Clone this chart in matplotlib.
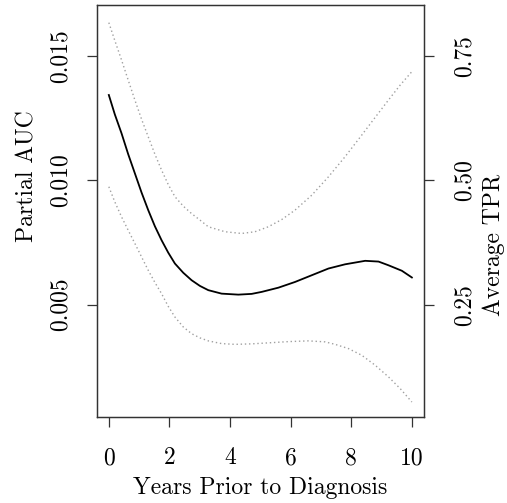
import matplotlib

matplotlib.use("Agg")
import matplotlib.pyplot as plt

plt.rcParams["font.family"] = ["cmr10", "DejaVu Serif"]
plt.rcParams["axes.formatter.use_mathtext"] = True

# estimate of partial AUC by years prior to diagnosis, with pointwise band
years = [0.000, 0.198, 0.419, 0.639, 0.859, 1.079, 1.300, 1.520, 1.740, 1.960,
         2.181, 2.456, 2.731, 3.007, 3.282, 3.722, 4.273, 4.714, 5.044, 5.595,
         6.145, 6.696, 7.247, 7.797, 8.458, 8.899, 9.229, 9.670, 10.000]
pauc = [0.01343, 0.01265, 0.01189, 0.01105, 0.01028, 0.00951, 0.00880, 0.00815, 0.00759, 0.00709,
        0.00665, 0.00628, 0.00598, 0.00575, 0.00558, 0.00544, 0.00540, 0.00543, 0.00551, 0.00568,
        0.00591, 0.00618, 0.00645, 0.00662, 0.00676, 0.00673, 0.00658, 0.00636, 0.00609]

upper_years = [0.000, 0.198, 0.419, 0.639, 0.859, 1.079, 1.300, 1.520, 1.740, 1.960,
               2.181, 2.456, 2.731, 3.007, 3.282, 3.833, 4.383, 4.824, 5.264, 5.705,
               6.145, 6.696, 7.247, 7.797, 8.348, 8.789, 9.229, 9.615, 10.000]
upper = [0.01634, 0.01562, 0.01484, 0.01403, 0.01323, 0.01246, 0.01175, 0.01105, 0.01041, 0.00983,
         0.00934, 0.00896, 0.00866, 0.00840, 0.00813, 0.00793, 0.00786, 0.00793, 0.00813, 0.00842,
         0.00880, 0.00940, 0.01014, 0.01095, 0.01182, 0.01253, 0.01323, 0.01383, 0.01437]

lower_years = [0.000, 0.198, 0.419, 0.639, 0.859, 1.079, 1.300, 1.520, 1.740, 1.960,
               2.181, 2.456, 2.731, 3.007, 3.282, 3.722, 4.163, 4.714, 5.264, 5.925,
               6.586, 7.137, 7.467, 7.907, 8.348, 8.789, 9.229, 9.615, 10.000]
lower = [0.00974, 0.00913, 0.00853, 0.00799, 0.00746, 0.00692, 0.00638, 0.00589, 0.00544, 0.00493,
         0.00450, 0.00410, 0.00383, 0.00366, 0.00354, 0.00343, 0.00340, 0.00342, 0.00346, 0.00351,
         0.00354, 0.00350, 0.00340, 0.00323, 0.00296, 0.00256, 0.00209, 0.00162, 0.00108]

x_ticks = [0, 2, 4, 6, 8, 10]
pauc_ticks = [0.005, 0.010, 0.015]
pauc_tick_labels = ["0.005", "0.010", "0.015"]
tpr_ticks = [0.25, 0.50, 0.75]
tpr_tick_labels = ["0.25", "0.50", "0.75"]
fpr_width = 0.02  # average TPR = partial AUC / FPR range

W, H = 507, 503
fig = plt.figure(figsize=(W / 100, H / 100), dpi=100)
left, right, top, bottom = 96.7, 424.0, 5.0, 416.7
ax = fig.add_axes([left / W, 1 - bottom / H, (right - left) / W, (bottom - top) / H])

ax.plot(upper_years, upper, color="#a0a0a0", linestyle=(0, (1, 2)), linewidth=1.0)
ax.plot(lower_years, lower, color="#a0a0a0", linestyle=(0, (1, 2)), linewidth=1.0)
ax.plot(years, pauc, color="black", linewidth=1.3)

ax.set_xlim(-0.4, 10.4)
ylim = (0.00049, 0.01705)
ax.set_ylim(*ylim)

ax.set_xticks(x_ticks)
ax.set_xticklabels([str(t) for t in x_ticks])
ax.set_yticks(pauc_ticks)
ax.set_yticklabels(pauc_tick_labels, rotation=90, va="center")

ax2 = ax.twinx()
ax2.set_ylim(ylim[0] / fpr_width, ylim[1] / fpr_width)
ax2.set_yticks(tpr_ticks)
ax2.set_yticklabels(tpr_tick_labels, rotation=90, va="center")

fs = 17
for a in (ax, ax2):
    for spine in a.spines.values():
        spine.set_color("#333333")
        spine.set_linewidth(0.9)
    a.tick_params(length=7, width=0.9, color="#333333", labelsize=fs)
ax.tick_params(axis="x", pad=15)
ax.tick_params(axis="y", pad=11)
ax2.tick_params(axis="y", pad=14)

ax.set_xlabel("Years Prior to Diagnosis", fontsize=fs, va="center")
ax.xaxis.set_label_coords(0.5, -0.172)
ax.set_ylabel("Partial AUC", fontsize=fs, va="center")
ax.yaxis.set_label_coords(-0.213, 0.585)
ax2.set_ylabel("Average TPR", fontsize=fs, va="center")
ax2.yaxis.set_label_coords(1.214, 0.417)

fig.savefig("out.png", dpi=100)
